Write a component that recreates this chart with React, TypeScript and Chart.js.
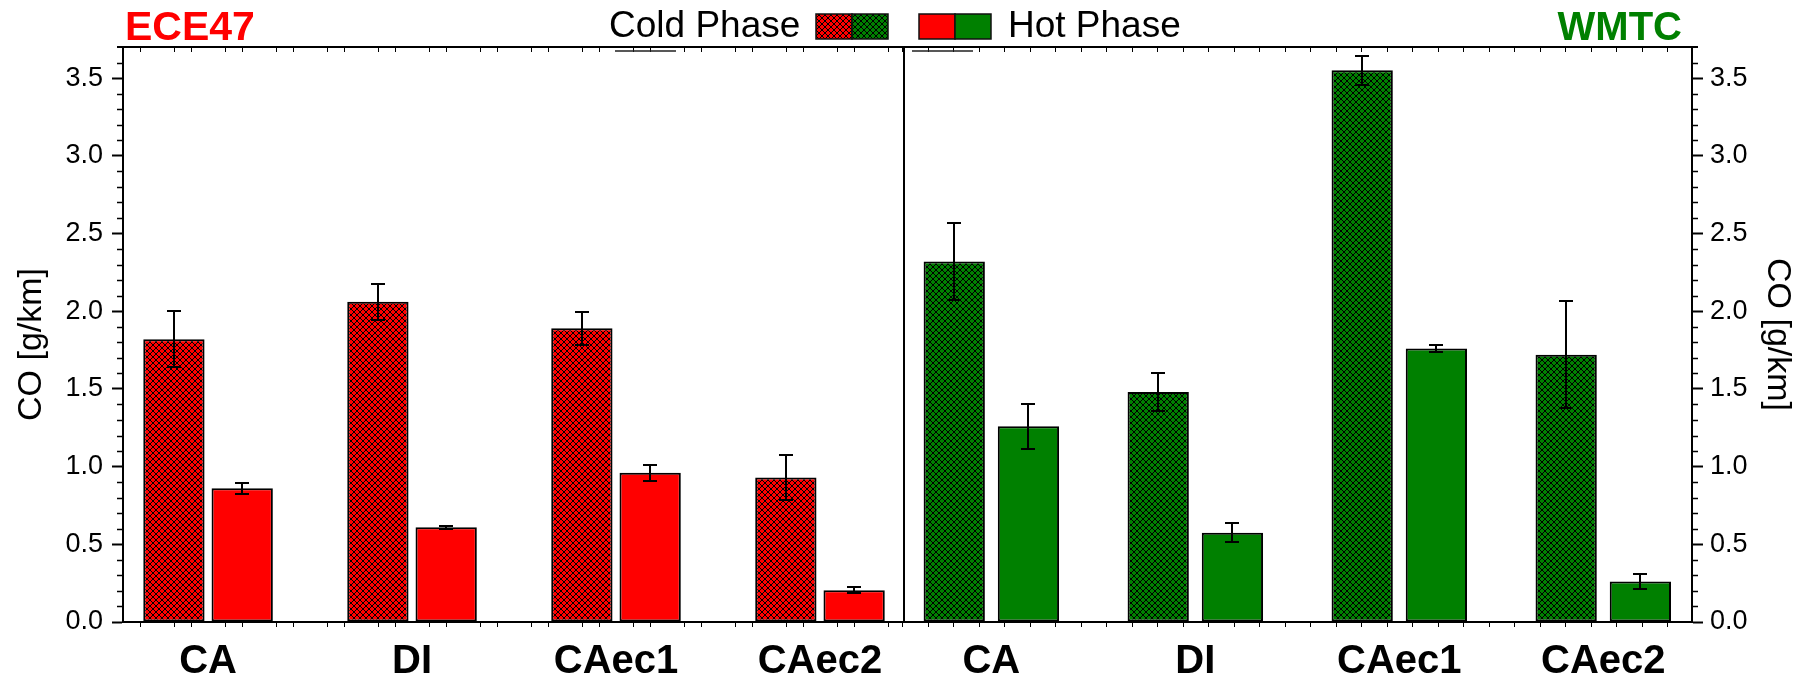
import { useEffect, useRef } from 'react';
import { Chart, registerables } from 'chart.js';

Chart.register(...registerables);

// ---------- data ----------
const categories = ['CA', 'DI', 'CAec1', 'CAec2'];

const ece47Cold = [1.82, 2.06, 1.89, 0.93];
const ece47ColdErr = [0.18, 0.115, 0.105, 0.145];
const ece47Hot = [0.86, 0.61, 0.96, 0.205];
const ece47HotErr = [0.035, 0.01, 0.05, 0.02];

const wmtcCold = [2.32, 1.48, 3.55, 1.72];
const wmtcColdErr = [0.25, 0.125, 0.093, 0.345];
const wmtcHot = [1.26, 0.575, 1.76, 0.26];
const wmtcHotErr = [0.145, 0.063, 0.02, 0.046];

const yTicks = [0, 0.5, 1, 1.5, 2, 2.5, 3, 3.5];
const yMax = 3.7;
const yMinorStep = 0.1;
const yTitle = 'CO [g/km]';

// ---------- layout constants ----------
const panelShift = 3.84; // distance (in category units) between the two test-cycle panels
const xMin = -0.417;
const xMax = panelShift + 3 + 0.435;
const dividerX = 3.41;

const RED = '#FF0000';
const GREEN = '#008000';
const FONT = "'Liberation Sans', Arial, Helvetica, sans-serif";

const W = 1805;
const H = 683;

function makeHatch(color: string): CanvasPattern | string {
  const s = 6;
  const c = document.createElement('canvas');
  c.width = s;
  c.height = s;
  const g = c.getContext('2d');
  if (!g) return color;
  g.fillStyle = color;
  g.fillRect(0, 0, s, s);
  g.strokeStyle = '#000';
  g.lineWidth = 1;
  g.beginPath();
  g.moveTo(0, 0);
  g.lineTo(s, s);
  g.moveTo(s, 0);
  g.lineTo(0, s);
  g.stroke();
  const p = g.createPattern(c, 'repeat');
  return p || color;
}

const errorBars = {
  id: 'errorBars',
  afterDatasetsDraw(chart: any) {
    const { ctx } = chart;
    const y = chart.scales.y;
    ctx.save();
    ctx.strokeStyle = '#000';
    ctx.lineWidth = 2;
    chart.data.datasets.forEach((ds: any, di: number) => {
      const meta = chart.getDatasetMeta(di);
      meta.data.forEach((el: any, i: number) => {
        const v = ds.data[i].y;
        const e = ds.errors[i];
        const yt = Math.round(y.getPixelForValue(v + e));
        const yb = Math.round(y.getPixelForValue(v - e));
        const x = Math.round(el.x);
        ctx.beginPath();
        ctx.moveTo(x, yt);
        ctx.lineTo(x, yb);
        ctx.moveTo(x - 7, yt);
        ctx.lineTo(x + 7, yt);
        ctx.moveTo(x - 7, yb);
        ctx.lineTo(x + 7, yb);
        ctx.stroke();
      });
    });
    ctx.restore();
  },
};

const frame = {
  id: 'frame',
  afterDraw(chart: any) {
    const { ctx, chartArea: a } = chart;
    const x = chart.scales.x;
    const y = chart.scales.y;
    ctx.save();
    ctx.strokeStyle = '#000';

    // divider between the two cycles
    ctx.lineWidth = 2;
    const dx = Math.round(x.getPixelForValue(dividerX));
    ctx.beginPath();
    ctx.moveTo(dx, a.top);
    ctx.lineTo(dx, a.bottom);
    ctx.stroke();

    // top border
    ctx.beginPath();
    ctx.moveTo(a.left - 6, a.top);
    ctx.lineTo(a.right + 6, a.top);
    ctx.stroke();

    // y minor ticks (both sides)
    ctx.lineWidth = 1.5;
    const nMinor = Math.round(yMax / yMinorStep);
    for (let k = 1; k < nMinor; k++) {
      if (k % 5 === 0) continue;
      const py = Math.round(y.getPixelForValue(k * yMinorStep)) + 0.5;
      ctx.beginPath();
      ctx.moveTo(a.left - 6, py);
      ctx.lineTo(a.left, py);
      ctx.moveTo(a.right, py);
      ctx.lineTo(a.right + 6, py);
      ctx.stroke();
    }

    // x minor ticks (bottom outward, top inward)
    ctx.lineWidth = 1;
    const drawX = (v: number) => {
      const px = Math.round(x.getPixelForValue(v)) + 0.5;
      ctx.beginPath();
      ctx.moveTo(px, a.bottom);
      ctx.lineTo(px, a.bottom + 5);
      ctx.moveTo(px, a.top);
      ctx.lineTo(px, a.top + 5);
      ctx.stroke();
    };
    for (let k = -4; k / 12 < dividerX - 0.05; k++) {
      if (k % 3 === 0) continue;
      drawX(k / 12);
    }
    for (let k = -4; panelShift + (k + 0.5) / 8 < xMax - 0.05; k++) {
      drawX(panelShift + (k + 0.5) / 8);
    }

    // axis titles
    ctx.fillStyle = '#000';
    ctx.font = `34px ${FONT}`;
    ctx.textAlign = 'center';
    ctx.textBaseline = 'middle';
    const midY = (a.top + a.bottom) / 2;
    ctx.save();
    ctx.translate(32, midY + 10);
    ctx.rotate(-Math.PI / 2);
    ctx.fillText(yTitle, 0, 0);
    ctx.restore();
    ctx.save();
    ctx.translate(1777, midY);
    ctx.rotate(Math.PI / 2);
    ctx.fillText(yTitle, 0, 0);
    ctx.restore();

    ctx.restore();
  },
};

const headerPlugin = (hatchRed: any, hatchGreen: any) => ({
  id: 'header',
  afterDraw(chart: any) {
    const { ctx } = chart;
    ctx.save();
    ctx.textBaseline = 'alphabetic';

    ctx.font = `bold 41px ${FONT}`;
    ctx.fillStyle = RED;
    ctx.textAlign = 'left';
    ctx.fillText('ECE47', 125, 40);

    ctx.font = `bold 40px ${FONT}`;
    ctx.fillStyle = GREEN;
    ctx.textAlign = 'right';
    ctx.fillText('WMTC', 1682, 40);

    ctx.font = `37px ${FONT}`;
    ctx.fillStyle = '#000';
    ctx.textAlign = 'left';
    ctx.fillText('Cold Phase', 609, 37);
    ctx.fillText('Hot Phase', 1008, 37);

    const box = (x: number, fill: any) => {
      ctx.fillStyle = fill;
      ctx.fillRect(x, 14, 36, 25);
      ctx.strokeStyle = '#111';
      ctx.lineWidth = 1.5;
      ctx.strokeRect(x, 14, 36, 25);
    };
    box(816, hatchRed);
    box(852, hatchGreen);
    box(919, RED);
    box(955, GREEN);

    ctx.strokeStyle = '#222';
    ctx.lineWidth = 1.5;
    ctx.beginPath();
    ctx.moveTo(615, 51);
    ctx.lineTo(676, 51);
    ctx.moveTo(912, 51);
    ctx.lineTo(973, 51);
    ctx.stroke();
    ctx.restore();
  },
});

export default function App() {
  const ref = useRef<HTMLCanvasElement>(null);

  useEffect(() => {
    const canvas = ref.current;
    if (!canvas) return;
    const hatchRed = makeHatch(RED);
    const hatchGreen = makeHatch(GREEN);

    const leftX = categories.map((_, i) => i);
    const rightX = categories.map((_, i) => i + panelShift);
    const allX = [...leftX, ...rightX];
    const allLabels = [...categories, ...categories];

    const common = {
      borderColor: '#000',
      borderWidth: 2,
      borderSkipped: false,
      skipNull: true,
    };
    const left = { barPercentage: 0.898, categoryPercentage: 0.797 };
    const right = { barPercentage: 0.826, categoryPercentage: 0.866 };

    const yAxisCommon = {
      type: 'linear',
      min: 0,
      max: yMax,
      afterBuildTicks: (s: any) => {
        s.ticks = yTicks.map((v) => ({ value: v }));
      },
      grid: {
        drawOnChartArea: false,
        drawTicks: true,
        tickLength: 11,
        tickWidth: 2,
        tickColor: '#000',
      },
      border: { display: true, color: '#000', width: 2 },
      ticks: {
        color: '#000',
        font: { family: FONT, size: 27 },
        callback: (v: number) => v.toFixed(1),
      },
      title: { display: false },
    };

    const chart = new Chart(canvas, {
      type: 'bar',
      data: {
        datasets: [
          {
            label: 'ECE47 Cold Phase',
            data: leftX.map((x, i) => ({ x, y: ece47Cold[i] })),
            errors: ece47ColdErr,
            backgroundColor: hatchRed,
            stack: 'eCold',
            ...common,
            ...left,
          },
          {
            label: 'ECE47 Hot Phase',
            data: leftX.map((x, i) => ({ x, y: ece47Hot[i] })),
            errors: ece47HotErr,
            backgroundColor: RED,
            stack: 'eHot',
            ...common,
            ...left,
          },
          {
            label: 'WMTC Cold Phase',
            data: rightX.map((x, i) => ({ x, y: wmtcCold[i] })),
            errors: wmtcColdErr,
            backgroundColor: hatchGreen,
            stack: 'wCold',
            ...common,
            ...right,
          },
          {
            label: 'WMTC Hot Phase',
            data: rightX.map((x, i) => ({ x, y: wmtcHot[i] })),
            errors: wmtcHotErr,
            backgroundColor: GREEN,
            stack: 'wHot',
            ...common,
            ...right,
          },
        ] as any,
      },
      options: {
        responsive: false,
        animation: false,
        layout: { padding: { top: 47, left: 0, right: 0, bottom: 0 } },
        plugins: {
          legend: { display: false },
          tooltip: { enabled: false },
        },
        scales: {
          x: {
            type: 'linear',
            offset: false,
            min: xMin,
            max: xMax,
            afterBuildTicks: (s: any) => {
              s.ticks = allX.map((v) => ({ value: v }));
            },
            afterFit: (s: any) => {
              s.height = H - 622;
            },
            grid: { display: false, offset: false },
            border: { display: true, color: '#000', width: 2 },
            ticks: {
              autoSkip: false,
              maxRotation: 0,
              padding: 8,
              color: '#000',
              font: { family: FONT, size: 40, weight: 'bold' },
              callback: (_v: any, i: number) => allLabels[i],
            },
          },
          y: {
            ...yAxisCommon,
            position: 'left',
            afterFit: (s: any) => {
              s.width = 123;
            },
            ticks: { ...yAxisCommon.ticks, padding: 9 },
          },
          y2: {
            ...yAxisCommon,
            position: 'right',
            afterFit: (s: any) => {
              s.width = W - 1692;
            },
            ticks: { ...yAxisCommon.ticks, padding: 7 },
          },
        } as any,
      },
      plugins: [errorBars, frame, headerPlugin(hatchRed, hatchGreen)],
    } as any);

    return () => chart.destroy();
  }, []);

  return (
    <div style={{ position: 'fixed', left: 0, top: 0, width: W, height: H }}>
      <canvas ref={ref} width={W} height={H} style={{ display: 'block' }} />
    </div>
  );
}
